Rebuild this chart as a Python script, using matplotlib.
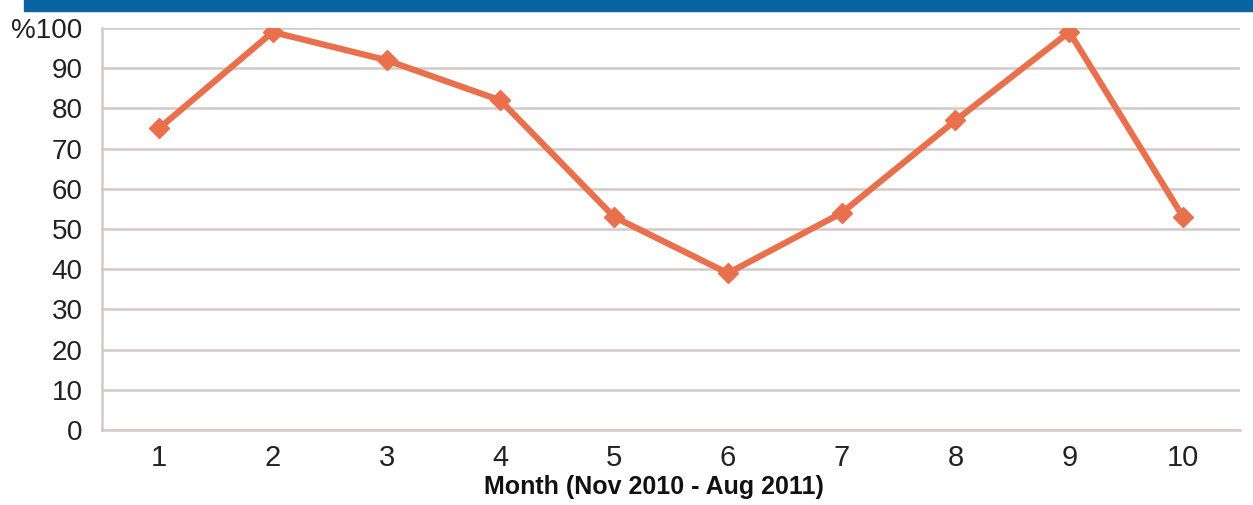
import matplotlib
matplotlib.use("Agg")
import matplotlib.pyplot as plt
from matplotlib.patches import Rectangle

months = [1, 2, 3, 4, 5, 6, 7, 8, 9, 10]
values = [75, 99, 92, 82, 53, 39, 54, 77, 99, 53]
yticks = [0, 10, 20, 30, 40, 50, 60, 70, 80, 90, 100]
ytick_labels = ["0", "10", "20", "30", "40", "50", "60", "70", "80", "90", "%100"]
xlabel = "Month (Nov 2010 - Aug 2011)"

line_color = "#e8704c"
grid_color = "#d3c9c6"

fig = plt.figure(figsize=(12.53, 5.05), dpi=100)
ax = fig.add_axes([102 / 1253, 75 / 505, 1138 / 1253, 402 / 505])

ax.plot(months, values, color=line_color, linewidth=4.5, marker="D",
        markersize=10, markerfacecolor=line_color, markeredgecolor=line_color,
        solid_joinstyle="miter", zorder=3)

ax.set_xlim(0.5, 10.5)
ax.set_ylim(0, 100)
ax.set_yticks(yticks)
ax.set_yticklabels(ytick_labels, fontsize=20, family=["Liberation Sans", "DejaVu Sans"])
ax.set_xticks(months)
ax.set_xticklabels([str(m) for m in months], fontsize=21,
                   family=["Liberation Sans", "DejaVu Sans"])
ax.tick_params(axis="both", length=0, colors="#222222")
ax.tick_params(axis="y", pad=14)
ax.tick_params(axis="x", pad=10)

ax.yaxis.grid(True, color=grid_color, linewidth=1.8)
ax.set_axisbelow(True)
for s in ["top", "right"]:
    ax.spines[s].set_visible(False)
ax.spines["left"].set_color(grid_color)
ax.spines["left"].set_linewidth(1.8)
ax.spines["bottom"].set_color(grid_color)
ax.spines["bottom"].set_linewidth(1.8)

ax.set_xlabel(xlabel, fontsize=18, fontweight="bold",
              family=["Liberation Sans Narrow", "Liberation Sans", "DejaVu Sans"],
              color="#111111")
ax.xaxis.set_label_coords(0.485, -0.112)

fig.patches.append(Rectangle((24 / 1253, 1 - 11 / 505), 1 - 24 / 1253, 11 / 505,
                             transform=fig.transFigure, color="#0a63a3", zorder=5))

fig.savefig("out.png", dpi=100)
